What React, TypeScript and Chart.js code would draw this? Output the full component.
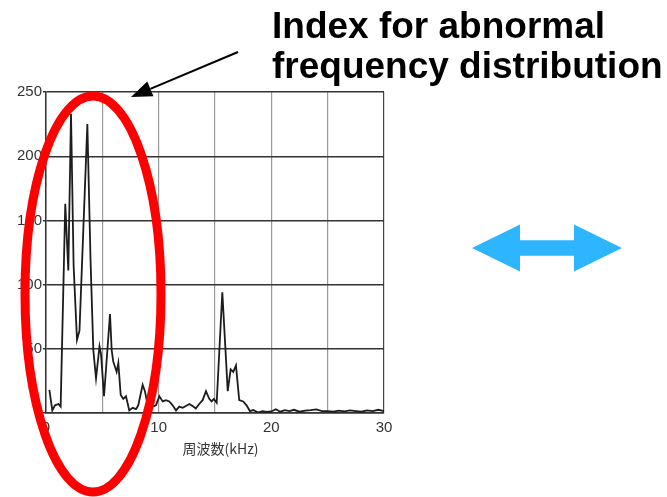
import React, { useEffect, useRef } from "react";
import { Chart, registerables } from "chart.js";

Chart.register(...registerables);

// Frequency (kHz) of each sample of the spectrum
const freqKHz = [
  0.3, 0.56, 0.8, 1.1, 1.3, 1.71, 1.98, 2.22, 2.45, 2.75, 2.97, 3.67, 3.95, 4.2, 4.44,
  4.75, 4.88, 5.15, 5.68, 5.83, 5.97, 6.27, 6.42, 6.63, 6.86, 7.1, 7.39, 7.69, 7.99,
  8.19, 8.58, 8.78, 8.99, 9.2, 9.47, 9.76, 10.06, 10.36, 10.65, 10.94, 11.24, 11.54,
  11.83, 12.13, 12.42, 12.72, 13.01, 13.3, 13.6, 13.9, 14.2, 14.49, 14.7, 14.9, 15.15,
  15.65, 16.13, 16.39, 16.62, 16.86, 17.15, 17.5, 17.8, 18.1, 18.4, 18.84, 19.2, 19.6,
  20.0, 20.4, 20.8, 21.2, 21.6, 22.0, 22.5, 23.0, 23.5, 24.0, 24.5, 25.0, 25.5, 26.0,
  26.5, 27.0, 27.5, 28.0, 28.5, 29.0, 29.5, 30.0,
];

// Amplitude at each frequency
const amplitude = [
  18, 2, 6, 7, 5, 163, 111, 233, 115, 57, 64, 225, 120, 49, 27,
  52, 46, 13, 77, 49, 40, 32, 39, 14, 11, 13, 2, 4, 3,
  6, 22, 17, 7.5, 9, 5, 6, 13, 9, 10, 9, 6, 2,
  5, 4, 5.5, 7, 5.5, 3.6, 7, 10, 17, 11, 9, 11, 8,
  94, 17, 34, 32, 37, 10, 9, 6, 1.5, 2.3, 0.3, 1.5, 0.8,
  1.2, 3, 1, 2.2, 1.5, 2.5, 1, 1.8, 2.2, 2.8, 1.5, 1.5, 1, 1.8,
  1.2, 2, 1.5, 1, 2, 1.5, 2.5, 1.5,
];

const xTickLabels = [0, 10, 20, 30];
const yTickLabels = [50, 100, 150, 200, 250];
const xAxisTitle = "周波数(kHz)";
const calloutLines = ["Index for abnormal", "frequency distribution"];

const annotationPlugin = {
  id: "annotations",
  afterDraw(chart: any) {
    const ctx = chart.ctx as CanvasRenderingContext2D;
    ctx.save();

    // x axis title (slightly right of the plot centre, as in the source)
    ctx.fillStyle = "#333";
    ctx.font = "14px 'Noto Sans CJK JP', sans-serif";
    ctx.textAlign = "center";
    ctx.textBaseline = "middle";
    ctx.fillText(xAxisTitle, 220.5, 448.5);

    // red ellipse
    ctx.beginPath();
    ctx.ellipse(93, 294, 68, 198, 0, 0, Math.PI * 2);
    ctx.strokeStyle = "#ff0000";
    ctx.lineWidth = 9;
    ctx.stroke();

    // black pointer arrow
    const sx = 238, sy = 52, tx = 131, ty = 97;
    const ang = Math.atan2(ty - sy, tx - sx);
    const headLen = 21, headHalf = 8;
    const bx = tx - headLen * Math.cos(ang);
    const by = ty - headLen * Math.sin(ang);
    ctx.beginPath();
    ctx.moveTo(sx, sy);
    ctx.lineTo(bx, by);
    ctx.strokeStyle = "#000";
    ctx.lineWidth = 2;
    ctx.stroke();
    ctx.beginPath();
    ctx.moveTo(tx, ty);
    ctx.lineTo(bx + headHalf * Math.sin(ang), by - headHalf * Math.cos(ang));
    ctx.lineTo(bx - headHalf * Math.sin(ang), by + headHalf * Math.cos(ang));
    ctx.closePath();
    ctx.fillStyle = "#000";
    ctx.fill();

    // callout text
    ctx.fillStyle = "#000";
    ctx.font = "bold 37px 'Liberation Sans', Arial, sans-serif";
    ctx.textBaseline = "alphabetic";
    ctx.textAlign = "left";
    ctx.fillText(calloutLines[0], 272, 38);
    ctx.fillText(calloutLines[1], 272, 78);

    // blue double arrow
    const cy = 248;
    ctx.beginPath();
    ctx.moveTo(472, cy);
    ctx.lineTo(520, cy - 23.5);
    ctx.lineTo(520, cy - 7.7);
    ctx.lineTo(574, cy - 7.7);
    ctx.lineTo(574, cy - 23.5);
    ctx.lineTo(622, cy);
    ctx.lineTo(574, cy + 23.5);
    ctx.lineTo(574, cy + 7.7);
    ctx.lineTo(520, cy + 7.7);
    ctx.lineTo(520, cy + 23.5);
    ctx.closePath();
    ctx.fillStyle = "#2eb5ff";
    ctx.fill();

    ctx.restore();
  },
};

export default function App() {
  const canvasRef = useRef<HTMLCanvasElement | null>(null);

  useEffect(() => {
    const canvas = canvasRef.current;
    if (!canvas) return;
    const tickFont = { family: "'Liberation Sans', Arial, sans-serif", size: 15 };
    const chart = new Chart(canvas, {
      type: "line",
      data: {
        datasets: [
          {
            data: freqKHz.map((x, i) => ({ x, y: amplitude[i] })),
            borderColor: "#1c1c1c",
            borderWidth: 1.8,
            pointRadius: 0,
            tension: 0,
            fill: false,
          },
        ],
      },
      options: {
        animation: false,
        responsive: false,
        devicePixelRatio: 1,
        layout: { padding: { left: 0, top: 92, right: 283, bottom: 0 } },
        plugins: { legend: { display: false }, tooltip: { enabled: false } },
        scales: {
          x: {
            type: "linear",
            min: 0,
            max: 30,
            ticks: {
              stepSize: 5,
              autoSkip: false,
              maxRotation: 0,
              color: "#333",
              font: tickFont,
              padding: 6,
              callback: (v: any) => (xTickLabels.includes(Number(v)) ? String(v) : ""),
            },
            grid: {
              drawTicks: false,
              lineWidth: 1.2,
              color: (c: any) => (c.tick && c.tick.value === 30 ? "#444" : "#9a9a9a"),
            },
            border: { color: "#333", width: 1.5 },
            title: { display: false },
            afterFit: (s: any) => {
              s.height = 84;
            },
          },
          y: {
            min: 0,
            max: 250,
            ticks: {
              stepSize: 50,
              color: "#333",
              font: tickFont,
              padding: 1,
              callback: (v: any) => (yTickLabels.includes(Number(v)) ? String(v) : ""),
            },
            grid: { color: "#333", lineWidth: 1.4, tickLength: 3 },
            border: { color: "#333", width: 1.5 },
            afterFit: (s: any) => {
              s.width = 46;
            },
          },
        },
      },
      plugins: [annotationPlugin],
    } as any);
    return () => chart.destroy();
  }, []);

  return (
    <div style={{ position: "absolute", left: 0, top: 0, width: 667, height: 497, background: "#fff" }}>
      <canvas ref={canvasRef} width={667} height={497} style={{ display: "block" }} />
    </div>
  );
}
